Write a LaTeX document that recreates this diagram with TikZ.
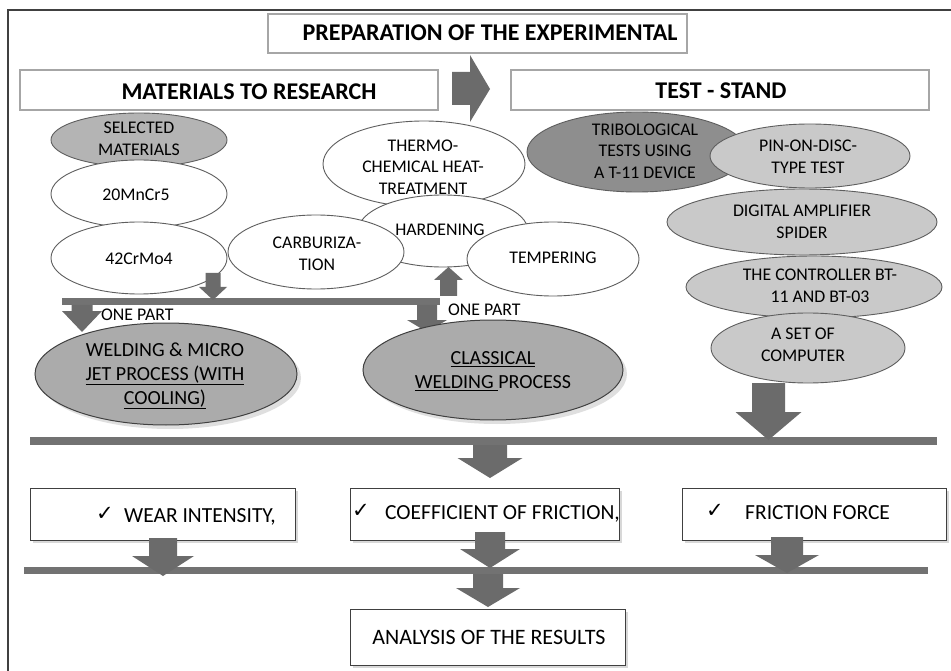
\documentclass[tikz,border=0pt]{standalone}
\usepackage{fontspec}
\setmainfont{Carlito}
\newfontfamily\djv{DejaVu Sans}
\usetikzlibrary{shapes.geometric,shadows}
\definecolor{arr}{HTML}{6B6B6B}
\definecolor{barc}{HTML}{727272}
\definecolor{selg}{HTML}{B4B4B4}
\definecolor{tribg}{HTML}{8E8E8E}
\definecolor{lig}{HTML}{C9C9C9}
\definecolor{weldg}{HTML}{ABABAB}
\definecolor{edge}{HTML}{5E5E5E}
\newcommand\blkdn[6]{\fill[arr] ({#1-#3},#2) -- ({#1+#3},#2) -- ({#1+#3},#5) -- ({#1+#4},#5) -- (#1,#6) -- ({#1-#4},#5) -- ({#1-#3},#5) -- cycle;}
\begin{document}
\begin{tikzpicture}[x=1pt,y=-1pt,
  ell/.style={ellipse, draw=edge, line width=0.9pt, fill=white, inner sep=0pt},
  etext/.style={align=center, inner sep=0pt, font=\fontsize{17.8}{21.5}\selectfont},
  wtext/.style={align=center, inner sep=0pt, font=\fontsize{20}{24}\selectfont},
  titlebox/.style={draw=black!35, line width=1.3pt, fill=white, inner sep=0pt},
  titletext/.style={inner sep=0pt, font=\fontsize{24}{28}\selectfont\bfseries},
  resbox/.style={draw=black!75, line width=1pt, fill=white, inner sep=0pt,
    drop shadow={shadow xshift=3pt, shadow yshift=-3pt, opacity=0.3}},
  restext/.style={inner sep=0pt, font=\fontsize{21.5}{25}\selectfont},
  chk/.style={inner sep=0pt, font=\djv\fontsize{21}{21}\selectfont},
  wshadow/.style={drop shadow={shadow xshift=4pt, shadow yshift=-4pt, opacity=0.25}}
]
\useasboundingbox (0,0) rectangle (951,671);
\fill[white] (0,0) rectangle (951,671);
% frame
\draw[line width=1.5pt, black!75] (8,671) -- (8,10) -- (951,10);

% title boxes
\node[titlebox, minimum width=419pt, minimum height=39pt] (prep) at (477.5,33.5) {};
\node[titletext] at (490,33) {PREPARATION OF THE EXPERIMENTAL};
\node[titlebox, minimum width=418pt, minimum height=40pt] (mat) at (229,90) {};
\node[titletext] at (249,92) {MATERIALS TO RESEARCH};
\node[titlebox, minimum width=418pt, minimum height=40pt] (test) at (720,90) {};
\node[titletext] at (721,91) {TEST - STAND};

% right arrow
\fill[arr] (452,72) -- (470,72) -- (470,55) -- (490,89) -- (470,122) -- (470,105) -- (452,105) -- cycle;

% materials ellipses
\node[ell, fill=selg, minimum width=176pt, minimum height=54pt] (sel) at (139,140) {};
\node[etext] at (139,139) {SELECTED\\MATERIALS};
\node[ell, minimum width=176pt, minimum height=68pt] (mn) at (139,194) {};
\node[etext] at (136,195) {20MnCr5};
\node[ell, minimum width=176pt, minimum height=72pt] (crmo) at (139,258) {};
\node[etext] at (139,259) {42CrMo4};

% heat treatment ellipses
\node[ell, minimum width=202pt, minimum height=86pt] (thermo) at (424,164) {};
\node[etext] at (423,167) {THERMO-\\CHEMICAL HEAT-\\TREATMENT};
\node[ell, minimum width=170pt, minimum height=72pt] (hard) at (443,231) {};
\node[ell, minimum width=176pt, minimum height=74pt] (carb) at (316,252) {};
\node[etext] at (317,254) {CARBURIZA-\\TION};
\node[ell, minimum width=172pt, minimum height=74pt] (temp) at (553,259) {};
\node[etext] at (553,258) {TEMPERING};
\node[etext] at (440,230) {HARDENING};

% test stand ellipses
\node[ell, fill=tribg, minimum width=220pt, minimum height=80pt] (trib) at (637,152) {};
\node[etext] at (645,151) {TRIBOLOGICAL\\TESTS USING\\A T-11 DEVICE};
\node[ell, fill=lig, minimum width=200pt, minimum height=64pt] (pin) at (810,156) {};
\node[etext] at (808,157) {PIN-ON-DISC-\\TYPE TEST};
\node[ell, fill=lig, minimum width=270pt, minimum height=66pt] (dig) at (802,222) {};
\node[etext] at (802,222) {DIGITAL AMPLIFIER\\SPIDER};
\node[ell, fill=lig, minimum width=256pt, minimum height=62pt] (ctrl) at (814,287) {};
\node[etext] at (820,286) {THE CONTROLLER BT-\\11 AND BT-03};
\node[ell, fill=lig, minimum width=194pt, minimum height=70pt] (comp) at (808,348) {};
\node[etext] at (803,345) {A SET OF\\COMPUTER};

% bars
\fill[barc] (62,298) rectangle (440,305);
\fill[barc] (30,437) rectangle (937,445);
\fill[barc] (24,567) rectangle (928,574);

% arrows around bar 1
\blkdn{213}{273}{7.5}{14}{287}{300}
\blkdn{82}{305}{10.5}{20}{311}{332}
\blkdn{427}{305}{10}{20}{320}{332}
\blkdn{448.5}{296}{8.5}{14.5}{280}{267}
\node[anchor=west, inner sep=0pt, font=\fontsize{17.8}{21}\selectfont] (op1) at (101,315) {ONE PART};
\node[anchor=west, inner sep=0pt, font=\fontsize{17.8}{21}\selectfont] (op2) at (448,310) {ONE PART};

% welding ellipses
\node[ell, fill=weldg, draw=black!75, line width=1pt, wshadow, minimum width=262pt, minimum height=102pt] (weld1) at (166,374) {};
\node[wtext] at (165,376) {WELDING \& MICRO\\\underline{JET PROCESS (WITH}\\\underline{COOLING)}};
\node[ell, fill=weldg, draw=black!75, line width=1pt, wshadow, minimum width=260pt, minimum height=100pt] (weld2) at (493,370) {};
\node[wtext] at (493,371) {\underline{CLASSICAL}\\\underline{WELDING }PROCESS};

% arrows to bar 2 and below
\blkdn{768.5}{383}{16.5}{33}{412}{440}
\blkdn{490}{445}{17}{32.5}{458}{478}

% result boxes
\node[resbox, minimum width=265pt, minimum height=52pt] (wear) at (162.5,514) {};
\node[chk] at (105,514) {✓};
\node[restext, anchor=base west] at (124,522) {WEAR INTENSITY,};
\node[resbox, minimum width=269pt, minimum height=52pt] (coef) at (484.5,514) {};
\node[chk] at (361,511) {✓};
\node[restext, anchor=base west] at (385,519) {COEFFICIENT OF FRICTION,};
\node[resbox, minimum width=264pt, minimum height=52pt] (fric) at (814,514) {};
\node[chk] at (715,511) {✓};
\node[restext, anchor=base west] at (745,519) {FRICTION FORCE};

% arrows from boxes to bar 3
\blkdn{163}{538}{14}{31}{556}{576}
\blkdn{490}{532}{15}{30}{549}{568}
\blkdn{787}{537}{16}{32}{555}{573}
\blkdn{488}{574}{15}{32}{588}{607}

% analysis
\node[resbox, minimum width=275pt, minimum height=56pt] (ana) at (487.5,637) {};
\node[restext, font=\fontsize{22}{25}\selectfont] at (489,637) {ANALYSIS OF THE RESULTS};
\end{tikzpicture}
\end{document}
